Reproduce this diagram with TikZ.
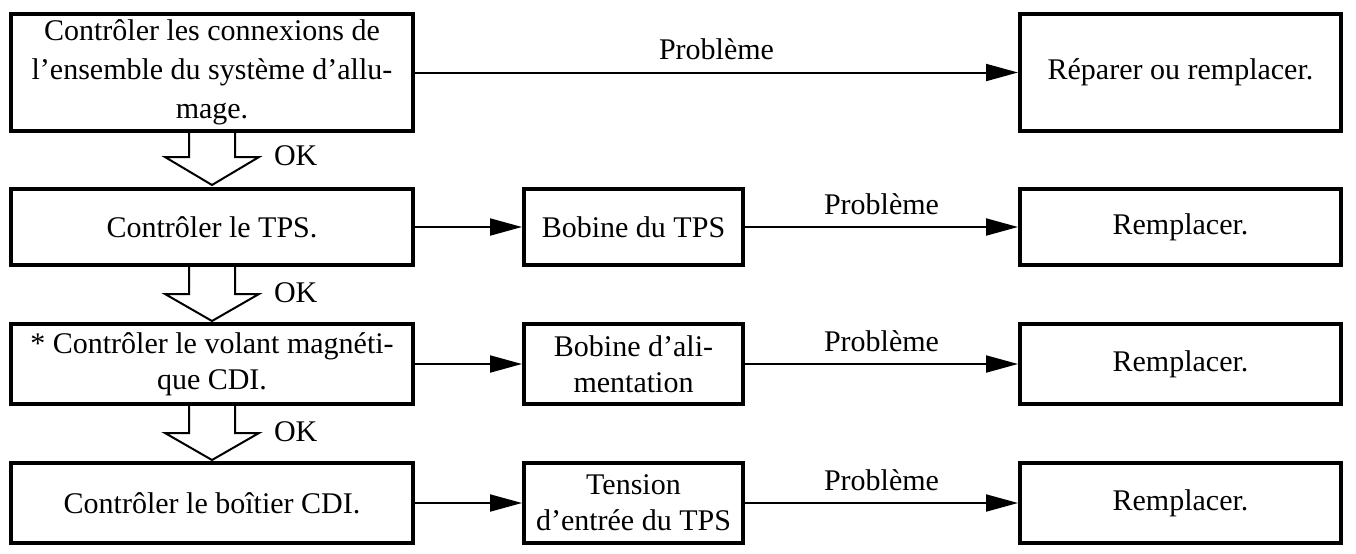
\documentclass[tikz,border=0pt]{standalone}
\usepackage{fontspec}
\setmainfont{Liberation Serif}
\usepackage{tikz}
\usetikzlibrary{arrows.meta}

\begin{document}
\begin{tikzpicture}[x=0.5pt, y=-0.5pt, >={Triangle[length=16pt, width=8.5pt]},
    box/.style={draw, line width=2pt, inner sep=0pt, align=center, font=\fontsize{15pt}{18pt}\selectfont},
    okarrow/.style={line width=1pt, line join=miter},
    oklabel/.style={anchor=base west, inner sep=0pt, xshift=7pt, yshift=-4pt, font=\fontsize{15pt}{18pt}\selectfont},
    probleme/.style={anchor=base, inner sep=0pt, yshift=6.5pt, font=\fontsize{15pt}{18pt}\selectfont}]
    \useasboundingbox (0, 0) rectangle (1356, 553);
    % left column
    \node [box, font=\fontsize{15pt}{19.5pt}\selectfont, minimum width=201pt, minimum height=58.5pt] (c1) at (212, 72.5) {Contrôler les connexions de\\l’ensemble du système d’allu-\\mage.};
    \node [box, minimum width=201pt, minimum height=38pt] (c2) at (212, 227) {Contrôler le TPS.};
    \node [box, minimum width=201pt, minimum height=40pt] (c3) at (212, 364) {* Contrôler le volant magnéti-\\que CDI.};
    \node [box, minimum width=201pt, minimum height=40pt] (c4) at (212, 503) {Contrôler le boîtier CDI.};
    % middle column
    \node [box, minimum width=109.5pt, minimum height=38pt] (m2) at (633.5, 227) {Bobine du TPS};
    \node [box, minimum width=109.5pt, minimum height=40pt] (m3) at (633.5, 364) {Bobine d’ali-\\mentation};
    \node [box, minimum width=109.5pt, minimum height=40pt] (m4) at (633.5, 503) {Tension\\d’entrée du TPS};
    % right column
    \node [box, minimum width=160.5pt, minimum height=58.5pt] (r1) at (1180.5, 72.5) {Réparer ou remplacer.};
    \node [box, minimum width=160.5pt, minimum height=38pt] (r2) at (1180.5, 227) {Remplacer.};
    \node [box, minimum width=160.5pt, minimum height=40pt] (r3) at (1180.5, 364) {Remplacer.};
    \node [box, minimum width=160.5pt, minimum height=40pt] (r4) at (1180.5, 503) {Remplacer.};
    % OK arrows
    \draw [okarrow] ([xshift=-11.5pt]c1.south) -- ++(0, 24) -- ++(-24, 0) -- ++(47, 28) -- ++(47, -28) node [oklabel] (ok1) {OK} -- ++(-24, 0) -- ++(0, -24);
    \draw [okarrow] ([xshift=-11.5pt]c2.south) -- ++(0, 27) -- ++(-24, 0) -- ++(47, 27) -- ++(47, -27) node [oklabel] (ok2) {OK} -- ++(-24, 0) -- ++(0, -27);
    \draw [okarrow] ([xshift=-11.5pt]c3.south) -- ++(0, 27) -- ++(-24, 0) -- ++(47, 27) -- ++(47, -27) node [oklabel] (ok3) {OK} -- ++(-24, 0) -- ++(0, -27);
    % Probleme arrows
    \draw [->, line width=1pt] (c1) -- node [probleme] (p1) {Problème} (r1);
    \draw [->, line width=1pt] (c2) -- (m2);
    \draw [->, line width=1pt] (m2) -- node [probleme] (p2) {Problème} (r2);
    \draw [->, line width=1pt] (c3) -- (m3);
    \draw [->, line width=1pt] (m3) -- node [probleme] (p3) {Problème} (r3);
    \draw [->, line width=1pt] (c4) -- (m4);
    \draw [->, line width=1pt] (m4) -- node [probleme] (p4) {Problème} (r4);
\end{tikzpicture}
\end{document}
